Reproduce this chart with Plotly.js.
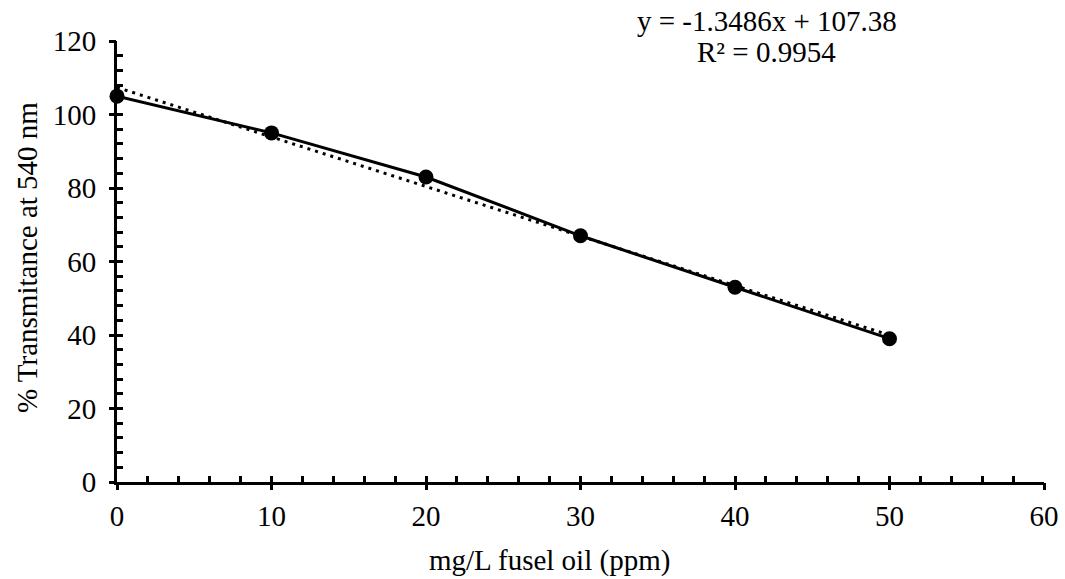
<!DOCTYPE html>
<html><head><meta charset="utf-8">
<script src="https://cdn.plot.ly/plotly-3.0.1.min.js"></script>
<style>html,body{margin:0;padding:0;background:#fff}#chart{width:1065px;height:579px}</style>
</head><body><div id="chart"></div>
<script>
const concentration = [0, 10, 20, 30, 40, 50];
const transmittance = [105, 95, 83, 67, 53, 39];
const trendSlope = -1.3486;
const trendIntercept = 107.38;
const trendX = [0, 50];
const equationLine = "y = -1.3486x + 107.38";
const r2Line = "R² = 0.9954";
const xTitle = "mg/L fusel oil (ppm)";
const yTitle = "% Transmitance at 540 nm";

const trendY = trendX.map(x => trendSlope * x + trendIntercept);
const F = "Liberation Serif, Times New Roman, serif";
const FS = 29;

const traces = [
  {x: trendX, y: trendY, mode: "lines", line: {color: "#000", width: 3, dash: "3px,5px"}, hoverinfo: "skip", cliponaxis: false},
  {x: concentration, y: transmittance, mode: "lines+markers", line: {color: "#000", width: 3},
   marker: {color: "#000", size: 15}, cliponaxis: false},
  {x: [0], y: [0], xaxis: "x2", yaxis: "y2", mode: "markers", marker: {opacity: 0}, hoverinfo: "skip"}
];

const axBase = {linecolor: "#000", tickcolor: "#000", tickwidth: 3, showgrid: false, zeroline: false};
const layout = {
  width: 1065, height: 579,
  margin: {l: 117, r: 21, t: 41, b: 97},
  paper_bgcolor: "#fff", plot_bgcolor: "#fff",
  showlegend: false,
  font: {family: F, size: FS, color: "#000"},
  xaxis: Object.assign({}, axBase, {
    range: [0, 60], dtick: 10, showline: true, linewidth: 3,
    ticks: "inside", ticklen: 6,
    minor: {dtick: 2, ticks: "inside", ticklen: 6, tickwidth: 3, tickcolor: "#000"},
    tickfont: {family: F, size: FS}, ticklabelstandoff: 6
  }),
  yaxis: Object.assign({}, axBase, {
    range: [0, 120], dtick: 20, showline: true, linewidth: 3,
    ticks: "inside", ticklen: 6,
    minor: {dtick: 4, ticks: "inside", ticklen: 6, tickwidth: 3, tickcolor: "#000"},
    tickfont: {family: F, size: FS}, ticklabelstandoff: 12
  }),
  xaxis2: Object.assign({}, axBase, {
    overlaying: "x", anchor: "y2", side: "bottom", range: [0, 60], dtick: 10,
    ticks: "outside", ticklen: 7, showticklabels: false, showline: false
  }),
  yaxis2: Object.assign({}, axBase, {
    overlaying: "y", anchor: "x2", side: "left", range: [0, 120], dtick: 20,
    ticks: "outside", ticklen: 7, showticklabels: false, showline: false
  }),
  annotations: [
    {xref: "paper", yref: "paper", x: 0.701, y: 1.045, xanchor: "center", yanchor: "middle",
     text: equationLine, showarrow: false, font: {family: F, size: FS, color: "#000"}},
    {xref: "paper", yref: "paper", x: 0.701, y: 0.975, xanchor: "center", yanchor: "middle",
     text: r2Line, showarrow: false, font: {family: F, size: FS, color: "#000"}},
    {xref: "paper", yref: "paper", x: 0.467, y: -0.177, xanchor: "center", yanchor: "middle",
     text: xTitle, showarrow: false, font: {family: F, size: FS, color: "#000"}},
    {xref: "paper", yref: "paper", x: -0.097, y: 0.508, xanchor: "center", yanchor: "middle",
     text: yTitle, textangle: -90, showarrow: false, font: {family: F, size: FS, color: "#000"}}
  ]
};
Plotly.newPlot("chart", traces, layout, {displayModeBar: false, staticPlot: true});
</script></body></html>
